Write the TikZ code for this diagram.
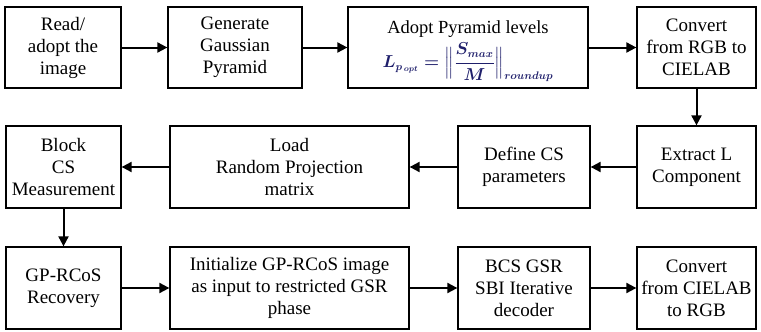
\documentclass[tikz,border=0pt]{standalone}
\usepackage{amsmath}
\usepackage{fontspec}
\setmainfont{Liberation Serif}
\usetikzlibrary{arrows.meta}
\definecolor{formulablue}{rgb}{0.12,0.12,0.42}
\tikzset{
  box/.style={draw, line width=1.3pt, align=center, inner sep=2pt,
    font=\fontsize{19}{22}\selectfont},
  conn/.style={line width=2pt, -{Triangle[length=10pt,width=10pt]}}
}
\begin{document}
\begin{tikzpicture}[x=1pt,y=-1pt]
\useasboundingbox (0,0) rectangle (761,332);
% row 1
\node[box, minimum width=116pt, minimum height=81pt] (b1) at (63,47.5) {Read/\\adopt the\\image};
\node[box, minimum width=134pt, minimum height=81pt] (b2) at (235,47.5) {Generate\\Gaussian\\Pyramid};
\node[box, minimum width=240pt, minimum height=81pt] (b3) at (468,47.5) {\rule{0pt}{20pt}{\fontsize{18.5}{22}\selectfont Adopt Pyramid levels}\\[4pt]{\fontsize{16}{18}\selectfont\color{formulablue}$\boldsymbol{L_{p_{\,opt}}=\Bigl\Vert\dfrac{S_{max}}{M}\Bigr\Vert_{roundup}}$}};
\node[box, minimum width=119pt, minimum height=81pt] (b4) at (696.5,47.5) {Convert\\from RGB to\\CIELAB};
% row 2
\node[box, minimum width=115pt, minimum height=82pt] (c1) at (63.5,167) {Block\\CS\\Measurement};
\node[box, minimum width=239pt, minimum height=82pt] (c2) at (289.5,167) {Load\\Random Projection\\matrix};
\node[box, minimum width=132pt, minimum height=82pt] (c3) at (524,167) {Define CS\\parameters};
\node[box, minimum width=119pt, minimum height=82pt] (c4) at (696.5,167) {Extract L\\Component};
% row 3
\node[box, minimum width=115pt, minimum height=82pt] (d1) at (63.5,288) {GP-RCoS\\Recovery};
\node[box, minimum width=239pt, minimum height=82pt] (d2) at (289.5,288) {Initialize GP-RCoS image\\as input to restricted GSR\\phase};
\node[box, minimum width=132pt, minimum height=82pt] (d3) at (524,288) {BCS GSR\\SBI Iterative\\decoder};
\node[box, minimum width=119pt, minimum height=82pt] (d4) at (696.5,288) {Convert\\from CIELAB\\to RGB};
% connectors
\draw[conn] (b1) -- (b2);
\draw[conn] (b2) -- (b3);
\draw[conn] (b3) -- (b4);
\draw[conn] (b4) -- (c4);
\draw[conn] (c4) -- (c3);
\draw[conn] (c3) -- (c2);
\draw[conn] (c2) -- (c1);
\draw[conn] (c1) -- (d1);
\draw[conn] (d1) -- (d2);
\draw[conn] (d2) -- (d3);
\draw[conn] (d3) -- (d4);
\end{tikzpicture}
\end{document}
